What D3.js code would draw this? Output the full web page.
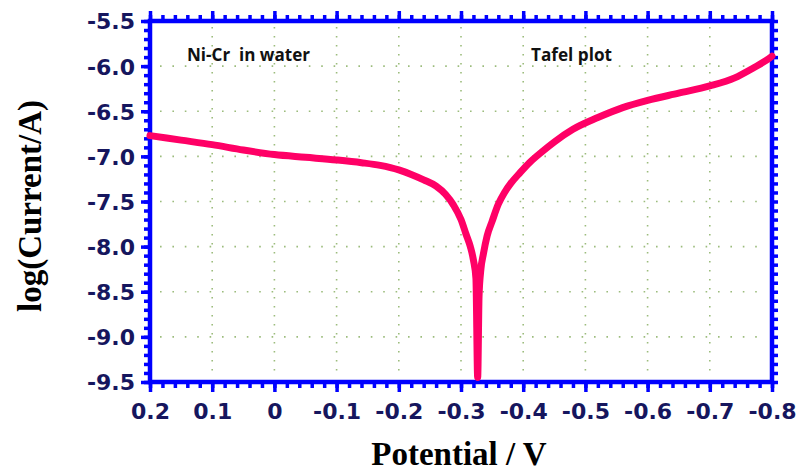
<!DOCTYPE html>
<html>
<head>
<meta charset="utf-8">
<script src="https://cdn.jsdelivr.net/npm/d3@7"></script>
<style>
  body { margin: 0; background: #fff; }
</style>
</head>
<body>
<div id="chart"></div>
<script>
// measured potential (V) and log(current) values
var potential = [0.2, 0.15, 0.1, 0.05, 0, -0.05, -0.1, -0.14, -0.17, -0.2, -0.22, -0.24, -0.26,
  -0.275, -0.288, -0.3, -0.308, -0.315, -0.32, -0.324, -0.3268, -0.329, -0.332, -0.336,
  -0.342, -0.35, -0.36, -0.37, -0.38, -0.395, -0.41, -0.43, -0.45, -0.48, -0.52, -0.56,
  -0.6, -0.65, -0.7, -0.74, -0.77, -0.79, -0.8];
var logCurrent = [-6.77, -6.82, -6.87, -6.93, -6.98, -7.01, -7.04, -7.07, -7.10, -7.15, -7.20, -7.26, -7.33,
  -7.42, -7.54, -7.70, -7.86, -8.00, -8.15, -8.35, -9.45, -8.55, -8.25, -8.08,
  -7.88, -7.72, -7.53, -7.40, -7.30, -7.18, -7.07, -6.95, -6.84, -6.70, -6.57, -6.46,
  -6.38, -6.30, -6.22, -6.13, -6.02, -5.94, -5.89];

// tick labels
var xTicks = [0.2, 0.1, 0, -0.1, -0.2, -0.3, -0.4, -0.5, -0.6, -0.7, -0.8];
var xTickLabels = ["0.2", "0.1", "0", "-0.1", "-0.2", "-0.3", "-0.4", "-0.5", "-0.6", "-0.7", "-0.8"];
var yTicks = [-5.5, -6.0, -6.5, -7.0, -7.5, -8.0, -8.5, -9.0, -9.5];
var yTickLabels = ["-5.5", "-6.0", "-6.5", "-7.0", "-7.5", "-8.0", "-8.5", "-9.0", "-9.5"];

var width = 801, height = 472;
var plotLeft = 150, plotRight = 772, plotTop = 21, plotBottom = 382;

var svg = d3.select("#chart")
  .append("svg")
    .attr("width", width)
    .attr("height", height);

var x = d3.scaleLinear().domain([0.2, -0.8]).range([plotLeft, plotRight]);
var y = d3.scaleLinear().domain([-9.5, -5.5]).range([plotBottom, plotTop]);

var blue = "#0000ff";
var navy = "#16165e";

// dotted grid
svg.append("g")
  .selectAll("line")
  .data(yTicks.slice(1, -1))
  .enter().append("line")
    .attr("x1", plotLeft + 10).attr("x2", plotRight - 8)
    .attr("y1", function(d) { return y(d); })
    .attr("y2", function(d) { return y(d); })
    .attr("stroke", "#9cbc7c")
    .attr("stroke-width", 1.6)
    .attr("stroke-dasharray", "1.6,10.8");

svg.append("g")
  .selectAll("line")
  .data(xTicks.slice(1, -1))
  .enter().append("line")
    .attr("x1", function(d) { return x(d); })
    .attr("x2", function(d) { return x(d); })
    .attr("y1", plotTop + 6).attr("y2", plotBottom - 4)
    .attr("stroke", "#9cbc7c")
    .attr("stroke-width", 1.6)
    .attr("stroke-dasharray", "1.6,7.4");

// minor tick positions
var xMinor = d3.range(0, 51).map(function(i) { return 0.2 - i * 0.02; });
var yMinor = d3.range(0, 41).map(function(i) { return -9.5 + i * 0.1; });

function styleAxis(g) {
  g.select(".domain").remove();
  g.selectAll(".tick line").attr("stroke", blue).attr("stroke-width", 3.5);
}

// minor ticks on all four sides
svg.append("g").attr("transform", "translate(0," + plotBottom + ")")
  .call(d3.axisBottom(x).tickValues(xMinor).tickSize(6).tickFormat(""))
  .call(styleAxis);
svg.append("g").attr("transform", "translate(0," + plotTop + ")")
  .call(d3.axisTop(x).tickValues(xMinor).tickSize(6).tickFormat(""))
  .call(styleAxis);
svg.append("g").attr("transform", "translate(" + plotLeft + ",0)")
  .call(d3.axisLeft(y).tickValues(yMinor).tickSize(6).tickFormat(""))
  .call(styleAxis);
svg.append("g").attr("transform", "translate(" + plotRight + ",0)")
  .call(d3.axisRight(y).tickValues(yMinor).tickSize(6).tickFormat(""))
  .call(styleAxis);

// major ticks
var xAxis = svg.append("g").attr("transform", "translate(0," + plotBottom + ")")
  .call(d3.axisBottom(x).tickValues(xTicks).tickSize(10).tickPadding(11)
    .tickFormat(function(d, i) { return xTickLabels[i]; }))
  .call(styleAxis);
svg.append("g").attr("transform", "translate(0," + plotTop + ")")
  .call(d3.axisTop(x).tickValues(xTicks).tickSize(10).tickFormat(""))
  .call(styleAxis);
var yAxis = svg.append("g").attr("transform", "translate(" + plotLeft + ",0)")
  .call(d3.axisLeft(y).tickValues(yTicks).tickSize(9).tickPadding(6)
    .tickFormat(function(d, i) { return yTickLabels[i]; }))
  .call(styleAxis);

[xAxis, yAxis].forEach(function(g) {
  g.selectAll(".tick text")
    .attr("fill", navy)
    .style("font-family", "'DejaVu Sans', Verdana, sans-serif")
    .style("font-weight", "bold")
    .style("font-size", "22px");
});
yAxis.selectAll(".tick text").attr("dy", "0.36em");

// frame
svg.append("rect")
  .attr("x", plotLeft).attr("y", plotTop)
  .attr("width", plotRight - plotLeft).attr("height", plotBottom - plotTop)
  .attr("fill", "none")
  .attr("stroke", blue)
  .attr("stroke-width", 4.5);

// curve
var line = d3.line()
  .x(function(d) { return x(d[0]); })
  .y(function(d) { return y(d[1]); })
  .curve(d3.curveMonotoneX);

svg.append("path")
  .datum(d3.zip(potential, logCurrent))
  .attr("d", line)
  .attr("fill", "none")
  .attr("stroke", "#ff0066")
  .attr("stroke-width", 7)
  .attr("stroke-linecap", "round")
  .attr("stroke-linejoin", "round");

// annotations
svg.append("text")
  .attr("x", 187).attr("y", 61)
  .attr("textLength", 123).attr("lengthAdjust", "spacingAndGlyphs")
  .style("white-space", "pre")
  .style("font-family", "'Open Sans', sans-serif")
  .style("font-weight", "bold")
  .style("font-size", "17px")
  .attr("fill", "#111")
  .text("Ni-Cr  in water");

svg.append("text")
  .attr("x", 531).attr("y", 61)
  .attr("textLength", 81).attr("lengthAdjust", "spacingAndGlyphs")
  .style("font-family", "'Open Sans', sans-serif")
  .style("font-weight", "bold")
  .style("font-size", "17px")
  .attr("fill", "#111")
  .text("Tafel plot");

// axis titles
svg.append("text")
  .attr("x", 459).attr("y", 465)
  .attr("text-anchor", "middle")
  .style("font-family", "'Liberation Serif', 'Times New Roman', serif")
  .style("font-weight", "bold")
  .style("font-size", "33px")
  .text("Potential / V");

svg.append("text")
  .attr("transform", "translate(41,206) rotate(-90)")
  .attr("text-anchor", "middle")
  .style("font-family", "'Liberation Serif', 'Times New Roman', serif")
  .style("font-weight", "bold")
  .style("font-size", "33px")
  .text("log(Current/A)");
</script>
</body>
</html>
